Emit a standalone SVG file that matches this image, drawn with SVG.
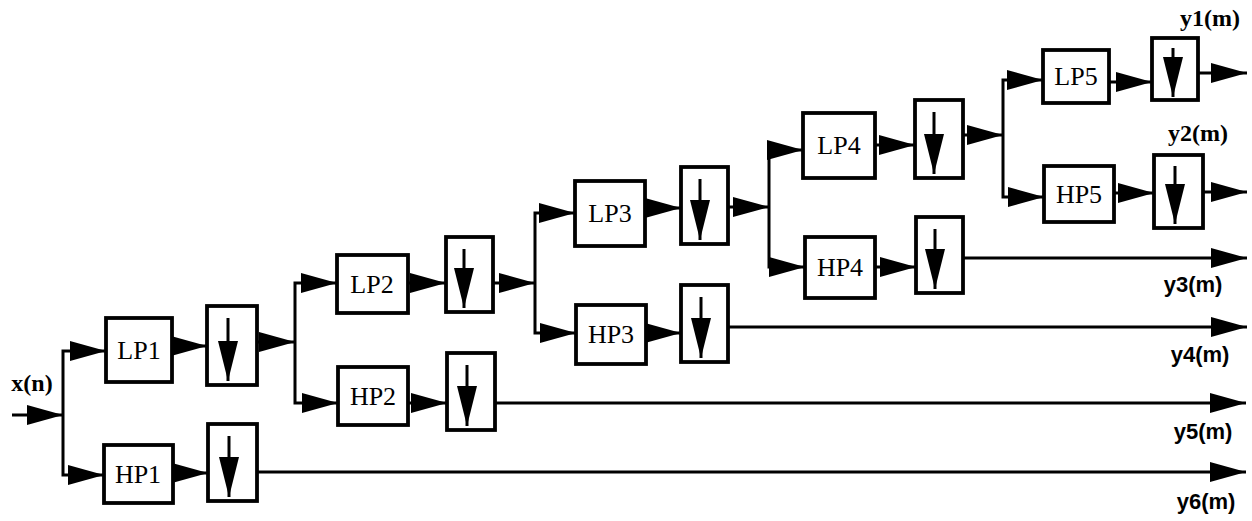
<svg xmlns="http://www.w3.org/2000/svg" width="1252" height="521" viewBox="0 0 1252 521">
<style>
.box{fill:#fff;stroke:#000;stroke-width:3.8}
.w{fill:none;stroke:#000;stroke-width:3}
.dn{fill:none;stroke:#000;stroke-width:3;marker-end:url(#dh)}
.a{marker-end:url(#ah)}
.lbl{font-family:"Liberation Serif",serif;font-size:26px;text-anchor:middle;fill:#000}
.out{font-family:"Liberation Sans",sans-serif;font-weight:bold;font-size:22px;text-anchor:middle;fill:#000}
.outs{font-family:"Liberation Serif",serif;font-weight:bold;font-size:24px;text-anchor:middle;fill:#000}
</style>
<defs>
<marker id="ah" markerUnits="userSpaceOnUse" markerWidth="36" markerHeight="20" viewBox="0 0 36 20" refX="36" refY="10" orient="auto">
<path d="M0,0 L36,10 L0,20 z" fill="#000"/>
</marker>
<marker id="dh" markerUnits="userSpaceOnUse" markerWidth="40" markerHeight="20" viewBox="0 0 40 20" refX="40" refY="10" orient="auto">
<path d="M0,0 L40,10 L0,20 z" fill="#000"/>
</marker>
</defs>
<rect width="1252" height="521" fill="#fff"/>

<g id="connectors">
<path class="w a" d="M12,415 H63"/>
<path class="w a" d="M63,415 V351 H106"/>
<path class="w a" d="M63,415 V475 H104"/>
<path class="w a" d="M172,346 H207"/>
<path class="w a" d="M173,473 H208"/>
<path class="w a" d="M257,342 H295"/>
<path class="w a" d="M257,472 H1246"/>
<path class="w a" d="M295,342 V283 H337"/>
<path class="w a" d="M295,342 V403 H338"/>
<path class="w a" d="M408,283 H446"/>
<path class="w a" d="M408,403 H447"/>
<path class="w a" d="M493,283 H535"/>
<path class="w a" d="M495,403 H1246"/>
<path class="w a" d="M535,283 V213 H575"/>
<path class="w a" d="M535,283 V333 H576"/>
<path class="w a" d="M645,208 H681"/>
<path class="w a" d="M646,333 H681"/>
<path class="w a" d="M728,207 H769"/>
<path class="w a" d="M728,327 H1247"/>
<path class="w a" d="M769,207 V150 H803"/>
<path class="w a" d="M769,207 V267 H805"/>
<path class="w a" d="M875,145 H915"/>
<path class="w a" d="M875,267 H916"/>
<path class="w a" d="M963,135 H1003"/>
<path class="w a" d="M963,258 H1247"/>
<path class="w a" d="M1003,135 V80 H1043"/>
<path class="w a" d="M1003,135 V197 H1044"/>
<path class="w a" d="M1109,82 H1152"/>
<path class="w a" d="M1114,193 H1154"/>
<path class="w a" d="M1198,73 H1247"/>
<path class="w a" d="M1203,192 H1247"/>
</g>

<g id="LP1"><rect class="box" x="106" y="318" width="66" height="64"/><text class="lbl" x="139" y="359">LP1</text></g>
<g id="HP1"><rect class="box" x="104" y="445" width="69" height="58"/><text class="lbl" x="138" y="483">HP1</text></g>
<g id="D1"><rect class="box" x="207" y="306" width="50" height="79"/><path class="dn" d="M228,318 V381"/></g>
<g id="DH1"><rect class="box" x="208" y="424" width="49" height="77"/><path class="dn" d="M229,436 V497"/></g>

<g id="LP2"><rect class="box" x="337" y="255" width="71" height="58"/><text class="lbl" x="372" y="293">LP2</text></g>
<g id="HP2"><rect class="box" x="338" y="367" width="70" height="58"/><text class="lbl" x="373" y="405">HP2</text></g>
<g id="D2"><rect class="box" x="446" y="237" width="47" height="75"/><path class="dn" d="M464,249 V308"/></g>
<g id="DH2"><rect class="box" x="447" y="353" width="48" height="77"/><path class="dn" d="M467,365 V426"/></g>

<g id="LP3"><rect class="box" x="575" y="181" width="70" height="65"/><text class="lbl" x="610" y="222">LP3</text></g>
<g id="HP3"><rect class="box" x="576" y="305" width="70" height="59"/><text class="lbl" x="611" y="343">HP3</text></g>
<g id="D3"><rect class="box" x="681" y="167" width="47" height="77"/><path class="dn" d="M700,179 V240"/></g>
<g id="DH3"><rect class="box" x="681" y="285" width="47" height="77"/><path class="dn" d="M701,297 V358"/></g>

<g id="LP4"><rect class="box" x="803" y="113" width="72" height="65"/><text class="lbl" x="839" y="154">LP4</text></g>
<g id="HP4"><rect class="box" x="805" y="237" width="70" height="61"/><text class="lbl" x="840" y="276">HP4</text></g>
<g id="D4"><rect class="box" x="915" y="100" width="48" height="78"/><path class="dn" d="M934,112 V174"/></g>
<g id="DH4"><rect class="box" x="916" y="217" width="47" height="76"/><path class="dn" d="M935,229 V289"/></g>

<g id="LP5"><rect class="box" x="1043" y="50" width="66" height="53"/><text class="lbl" x="1076" y="85">LP5</text></g>
<g id="HP5"><rect class="box" x="1044" y="166" width="70" height="56"/><text class="lbl" x="1079" y="203">HP5</text></g>
<g id="D5"><rect class="box" x="1152" y="38" width="46" height="62"/><path class="dn" d="M1173,48 V97"/></g>
<g id="DH5"><rect class="box" x="1154" y="155" width="49" height="73"/><path class="dn" d="M1175,166 V224"/></g>

<g id="labels">
<text class="outs" x="32" y="391">x(n)</text>
<text class="outs" x="1210" y="26">y1(m)</text>
<text class="outs" x="1198" y="141">y2(m)</text>
<text class="out" x="1193" y="292">y3(m)</text>
<text class="out" x="1200" y="362">y4(m)</text>
<text class="out" x="1203" y="439">y5(m)</text>
<text class="out" x="1206" y="509">y6(m)</text>
</g>
</svg>
